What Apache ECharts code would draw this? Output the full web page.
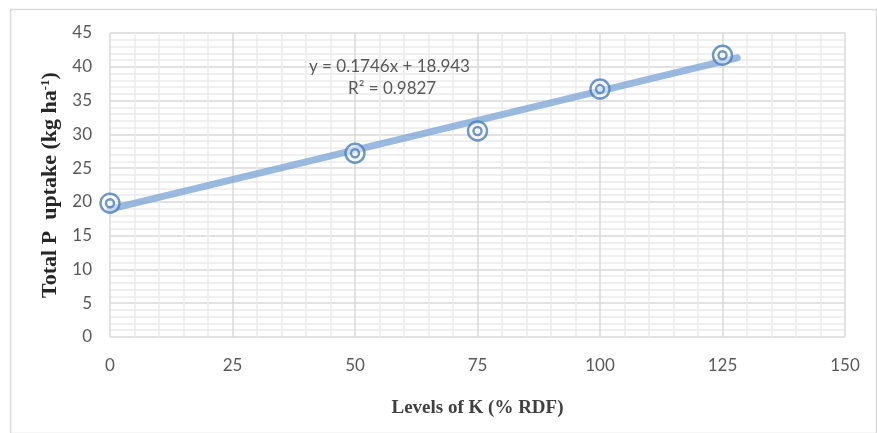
<!DOCTYPE html>
<html><head><meta charset="utf-8">
<script src="https://cdn.jsdelivr.net/npm/echarts@6/dist/echarts.min.js"></script>
<style>html,body{margin:0;padding:0;background:#fff}#c{width:877px;height:433px}</style>
</head><body><div id="c"></div>
<script>
const levelsK = [0, 50, 75, 100, 125];
const pUptake = [19.8, 27.2, 30.5, 36.7, 41.7];
const trendRange = [0, 128];
const xTicks = [0, 25, 50, 75, 100, 125, 150];
const yTicks = [0, 5, 10, 15, 20, 25, 30, 35, 40, 45];
const eqText = 'y = 0.1746x + 18.943';
const r2Text = 'R² = 0.9827';

// least squares fit from the data
const n = levelsK.length;
const mx = levelsK.reduce((a,b)=>a+b,0)/n;
const my = pUptake.reduce((a,b)=>a+b,0)/n;
let sxy=0, sxx=0;
for (let i=0;i<n;i++){ sxy+=(levelsK[i]-mx)*(pUptake[i]-my); sxx+=(levelsK[i]-mx)**2; }
const slope = sxy/sxx, icpt = my - slope*mx;
const trendData = trendRange.map(x=>[x, icpt + slope*x]);
const pts = levelsK.map((x,i)=>[x,pUptake[i]]);

const chart = echarts.init(document.getElementById('c'));
const lblFont = {color:'#595959', fontSize:17, fontFamily:'Lato, "Open Sans", sans-serif'};
chart.setOption({
  animation:false,
  grid:{left:110, right:32, top:33, bottom:96},
  xAxis:{type:'value', min:xTicks[0], max:xTicks[xTicks.length-1], interval:25,
    name:'Levels of K (% RDF)', nameLocation:'middle', nameGap:62,
    nameTextStyle:{fontFamily:'"Liberation Serif", serif', fontWeight:'bold', fontSize:19, color:'#404040'},
    axisLine:{show:false}, axisTick:{show:false},
    axisLabel:Object.assign({margin:20}, lblFont),
    splitLine:{lineStyle:{color:'#d9d9d9', width:1.5}},
    minorTick:{show:false, splitNumber:5},
    minorSplitLine:{show:true, lineStyle:{color:'#ececec', width:1.5}}},
  yAxis:{type:'value', min:yTicks[0], max:yTicks[yTicks.length-1], interval:5,
    name:'{a|Total P  uptake (kg ha}{s|-1}{a|)}', nameLocation:'middle', nameGap:47,
    nameTextStyle:{rich:{
      a:{fontFamily:'"Liberation Serif", serif', fontWeight:'bold', fontSize:22, color:'#262626'},
      s:{fontFamily:'"Liberation Serif", serif', fontWeight:'bold', fontSize:13, color:'#262626', verticalAlign:'top', padding:[0,0,10,0]}}},
    axisLine:{show:false}, axisTick:{show:false},
    axisLabel:Object.assign({margin:18}, lblFont),
    splitLine:{lineStyle:{color:'#d9d9d9', width:1.5}},
    minorTick:{show:false, splitNumber:5},
    minorSplitLine:{show:true, lineStyle:{color:'#ececec', width:1.5}}},
  graphic:[
    {type:'rect', left:8, top:7, shape:{width:866, height:424}, style:{fill:'none', stroke:'#d9d9d9', lineWidth:1.5}, silent:true, z:-1},
    {type:'text', left:309, top:58, z:100, style:{text:eqText, fill:'#595959', font:'17px Lato, "Open Sans", sans-serif'}},
    {type:'text', left:348, top:80, z:100, style:{text:r2Text, fill:'#595959', font:'17px Lato, "Open Sans", sans-serif'}}
  ],
  series:[
    {type:'line', data:trendData, showSymbol:false, symbol:'none',
      lineStyle:{color:'rgba(120,163,214,0.75)', width:7, cap:'round'}, z:2},
    {type:'scatter', data:pts, symbol:'circle', symbolSize:19,
      itemStyle:{color:'rgba(255,255,255,0.6)', borderColor:'#4a7ebb', borderWidth:2.4}, z:3},
    {type:'scatter', data:pts, symbol:'circle', symbolSize:8,
      itemStyle:{color:'rgba(255,255,255,0.4)', borderColor:'#4a7ebb', borderWidth:2.4}, z:4}
  ]
});
</script></body></html>
